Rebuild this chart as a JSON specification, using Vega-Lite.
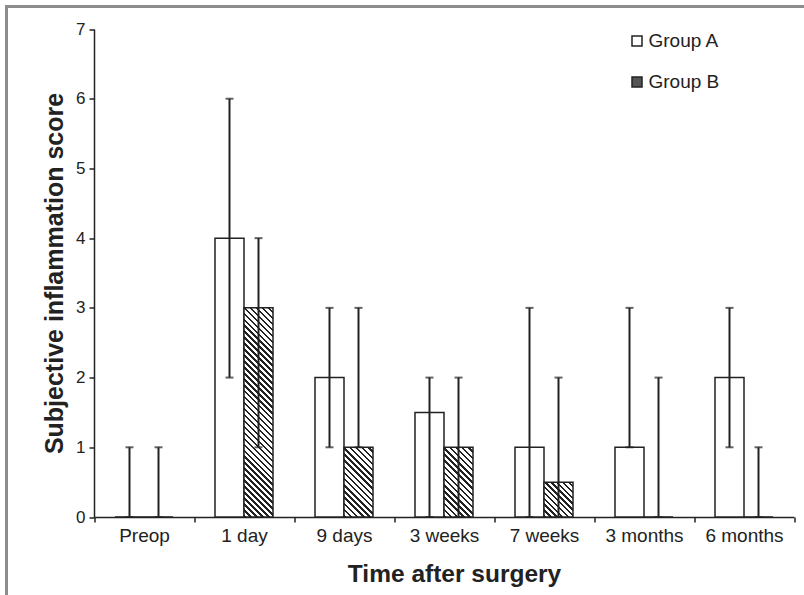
{
  "$schema": "https://vega.github.io/schema/vega-lite/v6.json",
  "autosize": "none",
  "width": 800,
  "height": 600,
  "padding": {"left": 6.5, "top": 6.5, "right": 0, "bottom": 0},
  "background": "white",
  "config": {
    "view": {"stroke": "#8c8c8c", "strokeWidth": 3},
    "font": "Liberation Sans",
    "axis": {"domainColor": "#222", "domainWidth": 1.5, "tickColor": "#222", "tickWidth": 1.5, "labelColor": "#222", "titleColor": "#222", "labelFont": "Liberation Sans", "titleFont": "Liberation Sans", "grid": false}
  },
  "data": {
    "values": [
      {"time": "Preop", "group": "Group A", "score": 0, "low": 0, "high": 1},
      {"time": "Preop", "group": "Group B", "score": 0, "low": 0, "high": 1},
      {"time": "1 day", "group": "Group A", "score": 4, "low": 2, "high": 6},
      {"time": "1 day", "group": "Group B", "score": 3, "low": 1, "high": 4},
      {"time": "9 days", "group": "Group A", "score": 2, "low": 1, "high": 3},
      {"time": "9 days", "group": "Group B", "score": 1, "low": 1, "high": 3},
      {"time": "3 weeks", "group": "Group A", "score": 1.5, "low": 0, "high": 2},
      {"time": "3 weeks", "group": "Group B", "score": 1, "low": 0, "high": 2},
      {"time": "7 weeks", "group": "Group A", "score": 1, "low": 0, "high": 3},
      {"time": "7 weeks", "group": "Group B", "score": 0.5, "low": 0, "high": 2},
      {"time": "3 months", "group": "Group A", "score": 1, "low": 1, "high": 3},
      {"time": "3 months", "group": "Group B", "score": 0, "low": 0, "high": 2},
      {"time": "6 months", "group": "Group A", "score": 2, "low": 1, "high": 3},
      {"time": "6 months", "group": "Group B", "score": 0, "low": 0, "high": 1}
    ]
  },
  "encoding": {
    "x": {
      "field": "time", "type": "nominal",
      "sort": ["Preop", "1 day", "9 days", "3 weeks", "7 weeks", "3 months", "6 months"],
      "title": "Time after surgery",
      "scale": {"range": [87.5, 787.5], "paddingInner": 0, "paddingOuter": 0},
      "axis": {"orient": "bottom", "offset": -89.5, "labelAngle": 0, "tickBand": "extent", "tickSize": 5, "labelPadding": 4, "labelFontSize": 19, "titleFontSize": 24.5, "titleFontWeight": "bold", "titlePadding": 17, "titleX": 447.5}
    },
    "xOffset": {"field": "group", "type": "nominal", "scale": {"paddingInner": 0, "paddingOuter": 0.724}}
  },
  "layer": [
    {
      "mark": {"type": "bar", "stroke": "#222", "strokeWidth": 1.5},
      "encoding": {
        "y": {
          "field": "score", "type": "quantitative", "title": "Subjective inflammation score",
          "scale": {"domain": [0, 7], "range": [510.5, 22.5], "nice": false},
          "axis": {"values": [0, 1, 2, 3, 4, 5, 6, 7], "format": "d", "offset": -87.5, "tickSize": 5, "labelPadding": 4, "labelFontSize": 17, "titleFontSize": 25, "titleFontWeight": "bold", "titlePadding": 8}
        },
        "fill": {
          "field": "group", "type": "nominal",
          "scale": {"domain": ["Group A", "Group B"], "range": ["#ffffff", "#555555"]},
          "legend": {"orient": "none", "legendX": 621, "legendY": 25, "title": null, "symbolType": "square", "symbolSize": 100, "symbolStrokeColor": "#222", "symbolStrokeWidth": 1.5, "labelFontSize": 19, "labelColor": "#222", "labelFont": "Liberation Sans", "rowPadding": 21, "labelOffset": 2, "padding": 0},
          "condition": [
            {"test": "datum.group === 'Group B' && datum.score >= 2.5", "value": {"gradient": "linear", "x1": 0, "y1": 1, "x2": 0.1549, "y2": -0.1172, "stops": [
              {"offset": 0, "color": "#222"}, {"offset": 0.0105, "color": "#222"}, {"offset": 0.0105, "color": "#fff"}, {"offset": 0.025, "color": "#fff"},
              {"offset": 0.025, "color": "#222"}, {"offset": 0.0355, "color": "#222"}, {"offset": 0.0355, "color": "#fff"}, {"offset": 0.05, "color": "#fff"},
              {"offset": 0.05, "color": "#222"}, {"offset": 0.0605, "color": "#222"}, {"offset": 0.0605, "color": "#fff"}, {"offset": 0.075, "color": "#fff"},
              {"offset": 0.075, "color": "#222"}, {"offset": 0.0855, "color": "#222"}, {"offset": 0.0855, "color": "#fff"}, {"offset": 0.1, "color": "#fff"},
              {"offset": 0.1, "color": "#222"}, {"offset": 0.1105, "color": "#222"}, {"offset": 0.1105, "color": "#fff"}, {"offset": 0.125, "color": "#fff"},
              {"offset": 0.125, "color": "#222"}, {"offset": 0.1355, "color": "#222"}, {"offset": 0.1355, "color": "#fff"}, {"offset": 0.15, "color": "#fff"},
              {"offset": 0.15, "color": "#222"}, {"offset": 0.1605, "color": "#222"}, {"offset": 0.1605, "color": "#fff"}, {"offset": 0.175, "color": "#fff"},
              {"offset": 0.175, "color": "#222"}, {"offset": 0.1855, "color": "#222"}, {"offset": 0.1855, "color": "#fff"}, {"offset": 0.2, "color": "#fff"},
              {"offset": 0.2, "color": "#222"}, {"offset": 0.2105, "color": "#222"}, {"offset": 0.2105, "color": "#fff"}, {"offset": 0.225, "color": "#fff"},
              {"offset": 0.225, "color": "#222"}, {"offset": 0.2355, "color": "#222"}, {"offset": 0.2355, "color": "#fff"}, {"offset": 0.25, "color": "#fff"},
              {"offset": 0.25, "color": "#222"}, {"offset": 0.2605, "color": "#222"}, {"offset": 0.2605, "color": "#fff"}, {"offset": 0.275, "color": "#fff"},
              {"offset": 0.275, "color": "#222"}, {"offset": 0.2855, "color": "#222"}, {"offset": 0.2855, "color": "#fff"}, {"offset": 0.3, "color": "#fff"},
              {"offset": 0.3, "color": "#222"}, {"offset": 0.3105, "color": "#222"}, {"offset": 0.3105, "color": "#fff"}, {"offset": 0.325, "color": "#fff"},
              {"offset": 0.325, "color": "#222"}, {"offset": 0.3355, "color": "#222"}, {"offset": 0.3355, "color": "#fff"}, {"offset": 0.35, "color": "#fff"},
              {"offset": 0.35, "color": "#222"}, {"offset": 0.3605, "color": "#222"}, {"offset": 0.3605, "color": "#fff"}, {"offset": 0.375, "color": "#fff"},
              {"offset": 0.375, "color": "#222"}, {"offset": 0.3855, "color": "#222"}, {"offset": 0.3855, "color": "#fff"}, {"offset": 0.4, "color": "#fff"},
              {"offset": 0.4, "color": "#222"}, {"offset": 0.4105, "color": "#222"}, {"offset": 0.4105, "color": "#fff"}, {"offset": 0.425, "color": "#fff"},
              {"offset": 0.425, "color": "#222"}, {"offset": 0.4355, "color": "#222"}, {"offset": 0.4355, "color": "#fff"}, {"offset": 0.45, "color": "#fff"},
              {"offset": 0.45, "color": "#222"}, {"offset": 0.4605, "color": "#222"}, {"offset": 0.4605, "color": "#fff"}, {"offset": 0.475, "color": "#fff"},
              {"offset": 0.475, "color": "#222"}, {"offset": 0.4855, "color": "#222"}, {"offset": 0.4855, "color": "#fff"}, {"offset": 0.5, "color": "#fff"},
              {"offset": 0.5, "color": "#222"}, {"offset": 0.5105, "color": "#222"}, {"offset": 0.5105, "color": "#fff"}, {"offset": 0.525, "color": "#fff"},
              {"offset": 0.525, "color": "#222"}, {"offset": 0.5355, "color": "#222"}, {"offset": 0.5355, "color": "#fff"}, {"offset": 0.55, "color": "#fff"},
              {"offset": 0.55, "color": "#222"}, {"offset": 0.5605, "color": "#222"}, {"offset": 0.5605, "color": "#fff"}, {"offset": 0.575, "color": "#fff"},
              {"offset": 0.575, "color": "#222"}, {"offset": 0.5855, "color": "#222"}, {"offset": 0.5855, "color": "#fff"}, {"offset": 0.6, "color": "#fff"},
              {"offset": 0.6, "color": "#222"}, {"offset": 0.6105, "color": "#222"}, {"offset": 0.6105, "color": "#fff"}, {"offset": 0.625, "color": "#fff"},
              {"offset": 0.625, "color": "#222"}, {"offset": 0.6355, "color": "#222"}, {"offset": 0.6355, "color": "#fff"}, {"offset": 0.65, "color": "#fff"},
              {"offset": 0.65, "color": "#222"}, {"offset": 0.6605, "color": "#222"}, {"offset": 0.6605, "color": "#fff"}, {"offset": 0.675, "color": "#fff"},
              {"offset": 0.675, "color": "#222"}, {"offset": 0.6855, "color": "#222"}, {"offset": 0.6855, "color": "#fff"}, {"offset": 0.7, "color": "#fff"},
              {"offset": 0.7, "color": "#222"}, {"offset": 0.7105, "color": "#222"}, {"offset": 0.7105, "color": "#fff"}, {"offset": 0.725, "color": "#fff"},
              {"offset": 0.725, "color": "#222"}, {"offset": 0.7355, "color": "#222"}, {"offset": 0.7355, "color": "#fff"}, {"offset": 0.75, "color": "#fff"},
              {"offset": 0.75, "color": "#222"}, {"offset": 0.7605, "color": "#222"}, {"offset": 0.7605, "color": "#fff"}, {"offset": 0.775, "color": "#fff"},
              {"offset": 0.775, "color": "#222"}, {"offset": 0.7855, "color": "#222"}, {"offset": 0.7855, "color": "#fff"}, {"offset": 0.8, "color": "#fff"},
              {"offset": 0.8, "color": "#222"}, {"offset": 0.8105, "color": "#222"}, {"offset": 0.8105, "color": "#fff"}, {"offset": 0.825, "color": "#fff"},
              {"offset": 0.825, "color": "#222"}, {"offset": 0.8355, "color": "#222"}, {"offset": 0.8355, "color": "#fff"}, {"offset": 0.85, "color": "#fff"},
              {"offset": 0.85, "color": "#222"}, {"offset": 0.8605, "color": "#222"}, {"offset": 0.8605, "color": "#fff"}, {"offset": 0.875, "color": "#fff"},
              {"offset": 0.875, "color": "#222"}, {"offset": 0.8855, "color": "#222"}, {"offset": 0.8855, "color": "#fff"}, {"offset": 0.9, "color": "#fff"},
              {"offset": 0.9, "color": "#222"}, {"offset": 0.9105, "color": "#222"}, {"offset": 0.9105, "color": "#fff"}, {"offset": 0.925, "color": "#fff"},
              {"offset": 0.925, "color": "#222"}, {"offset": 0.9355, "color": "#222"}, {"offset": 0.9355, "color": "#fff"}, {"offset": 0.95, "color": "#fff"},
              {"offset": 0.95, "color": "#222"}, {"offset": 0.9605, "color": "#222"}, {"offset": 0.9605, "color": "#fff"}, {"offset": 0.975, "color": "#fff"},
              {"offset": 0.975, "color": "#222"}, {"offset": 0.9855, "color": "#222"}, {"offset": 0.9855, "color": "#fff"}, {"offset": 1, "color": "#fff"}
            ]}},
            {"test": "datum.group === 'Group B' && datum.score >= 0.75", "value": {"gradient": "linear", "x1": 0, "y1": 1, "x2": 0.5022, "y2": -0.2071, "stops": [
              {"offset": 0, "color": "#222"}, {"offset": 0.02625, "color": "#222"}, {"offset": 0.02625, "color": "#fff"}, {"offset": 0.0625, "color": "#fff"},
              {"offset": 0.0625, "color": "#222"}, {"offset": 0.08875, "color": "#222"}, {"offset": 0.08875, "color": "#fff"}, {"offset": 0.125, "color": "#fff"},
              {"offset": 0.125, "color": "#222"}, {"offset": 0.15125, "color": "#222"}, {"offset": 0.15125, "color": "#fff"}, {"offset": 0.1875, "color": "#fff"},
              {"offset": 0.1875, "color": "#222"}, {"offset": 0.21375, "color": "#222"}, {"offset": 0.21375, "color": "#fff"}, {"offset": 0.25, "color": "#fff"},
              {"offset": 0.25, "color": "#222"}, {"offset": 0.27625, "color": "#222"}, {"offset": 0.27625, "color": "#fff"}, {"offset": 0.3125, "color": "#fff"},
              {"offset": 0.3125, "color": "#222"}, {"offset": 0.33875, "color": "#222"}, {"offset": 0.33875, "color": "#fff"}, {"offset": 0.375, "color": "#fff"},
              {"offset": 0.375, "color": "#222"}, {"offset": 0.40125, "color": "#222"}, {"offset": 0.40125, "color": "#fff"}, {"offset": 0.4375, "color": "#fff"},
              {"offset": 0.4375, "color": "#222"}, {"offset": 0.46375, "color": "#222"}, {"offset": 0.46375, "color": "#fff"}, {"offset": 0.5, "color": "#fff"},
              {"offset": 0.5, "color": "#222"}, {"offset": 0.52625, "color": "#222"}, {"offset": 0.52625, "color": "#fff"}, {"offset": 0.5625, "color": "#fff"},
              {"offset": 0.5625, "color": "#222"}, {"offset": 0.58875, "color": "#222"}, {"offset": 0.58875, "color": "#fff"}, {"offset": 0.625, "color": "#fff"},
              {"offset": 0.625, "color": "#222"}, {"offset": 0.65125, "color": "#222"}, {"offset": 0.65125, "color": "#fff"}, {"offset": 0.6875, "color": "#fff"},
              {"offset": 0.6875, "color": "#222"}, {"offset": 0.71375, "color": "#222"}, {"offset": 0.71375, "color": "#fff"}, {"offset": 0.75, "color": "#fff"},
              {"offset": 0.75, "color": "#222"}, {"offset": 0.77625, "color": "#222"}, {"offset": 0.77625, "color": "#fff"}, {"offset": 0.8125, "color": "#fff"},
              {"offset": 0.8125, "color": "#222"}, {"offset": 0.83875, "color": "#222"}, {"offset": 0.83875, "color": "#fff"}, {"offset": 0.875, "color": "#fff"},
              {"offset": 0.875, "color": "#222"}, {"offset": 0.90125, "color": "#222"}, {"offset": 0.90125, "color": "#fff"}, {"offset": 0.9375, "color": "#fff"},
              {"offset": 0.9375, "color": "#222"}, {"offset": 0.96375, "color": "#222"}, {"offset": 0.96375, "color": "#fff"}, {"offset": 1, "color": "#fff"}
            ]}},
            {"test": "datum.group === 'Group B'", "value": {"gradient": "linear", "x1": 0, "y1": 1, "x2": 0.9007, "y2": -0.0826, "stops": [
              {"offset": 0, "color": "#222"}, {"offset": 0.0382, "color": "#222"}, {"offset": 0.0382, "color": "#fff"}, {"offset": 0.0909, "color": "#fff"},
              {"offset": 0.0909, "color": "#222"}, {"offset": 0.1291, "color": "#222"}, {"offset": 0.1291, "color": "#fff"}, {"offset": 0.1818, "color": "#fff"},
              {"offset": 0.1818, "color": "#222"}, {"offset": 0.22, "color": "#222"}, {"offset": 0.22, "color": "#fff"}, {"offset": 0.2727, "color": "#fff"},
              {"offset": 0.2727, "color": "#222"}, {"offset": 0.3109, "color": "#222"}, {"offset": 0.3109, "color": "#fff"}, {"offset": 0.3636, "color": "#fff"},
              {"offset": 0.3636, "color": "#222"}, {"offset": 0.4018, "color": "#222"}, {"offset": 0.4018, "color": "#fff"}, {"offset": 0.4545, "color": "#fff"},
              {"offset": 0.4545, "color": "#222"}, {"offset": 0.4927, "color": "#222"}, {"offset": 0.4927, "color": "#fff"}, {"offset": 0.5455, "color": "#fff"},
              {"offset": 0.5455, "color": "#222"}, {"offset": 0.5837, "color": "#222"}, {"offset": 0.5837, "color": "#fff"}, {"offset": 0.6364, "color": "#fff"},
              {"offset": 0.6364, "color": "#222"}, {"offset": 0.6746, "color": "#222"}, {"offset": 0.6746, "color": "#fff"}, {"offset": 0.7273, "color": "#fff"},
              {"offset": 0.7273, "color": "#222"}, {"offset": 0.7655, "color": "#222"}, {"offset": 0.7655, "color": "#fff"}, {"offset": 0.8182, "color": "#fff"},
              {"offset": 0.8182, "color": "#222"}, {"offset": 0.8564, "color": "#222"}, {"offset": 0.8564, "color": "#fff"}, {"offset": 0.9091, "color": "#fff"},
              {"offset": 0.9091, "color": "#222"}, {"offset": 0.9473, "color": "#222"}, {"offset": 0.9473, "color": "#fff"}, {"offset": 1, "color": "#fff"}
            ]}}
          ]
        }
      }
    },
    {
      "mark": {"type": "rule", "color": "#222", "strokeWidth": 2},
      "encoding": {
        "y": {"field": "low", "type": "quantitative", "title": "Subjective inflammation score"},
        "y2": {"field": "high"}
      }
    },
    {
      "mark": {"type": "tick", "color": "#222", "thickness": 2, "size": 8},
      "encoding": {"y": {"field": "high", "type": "quantitative", "title": "Subjective inflammation score"}}
    },
    {
      "mark": {"type": "tick", "color": "#222", "thickness": 2, "size": 8},
      "encoding": {"y": {"field": "low", "type": "quantitative", "title": "Subjective inflammation score"}}
    }
  ]
}
